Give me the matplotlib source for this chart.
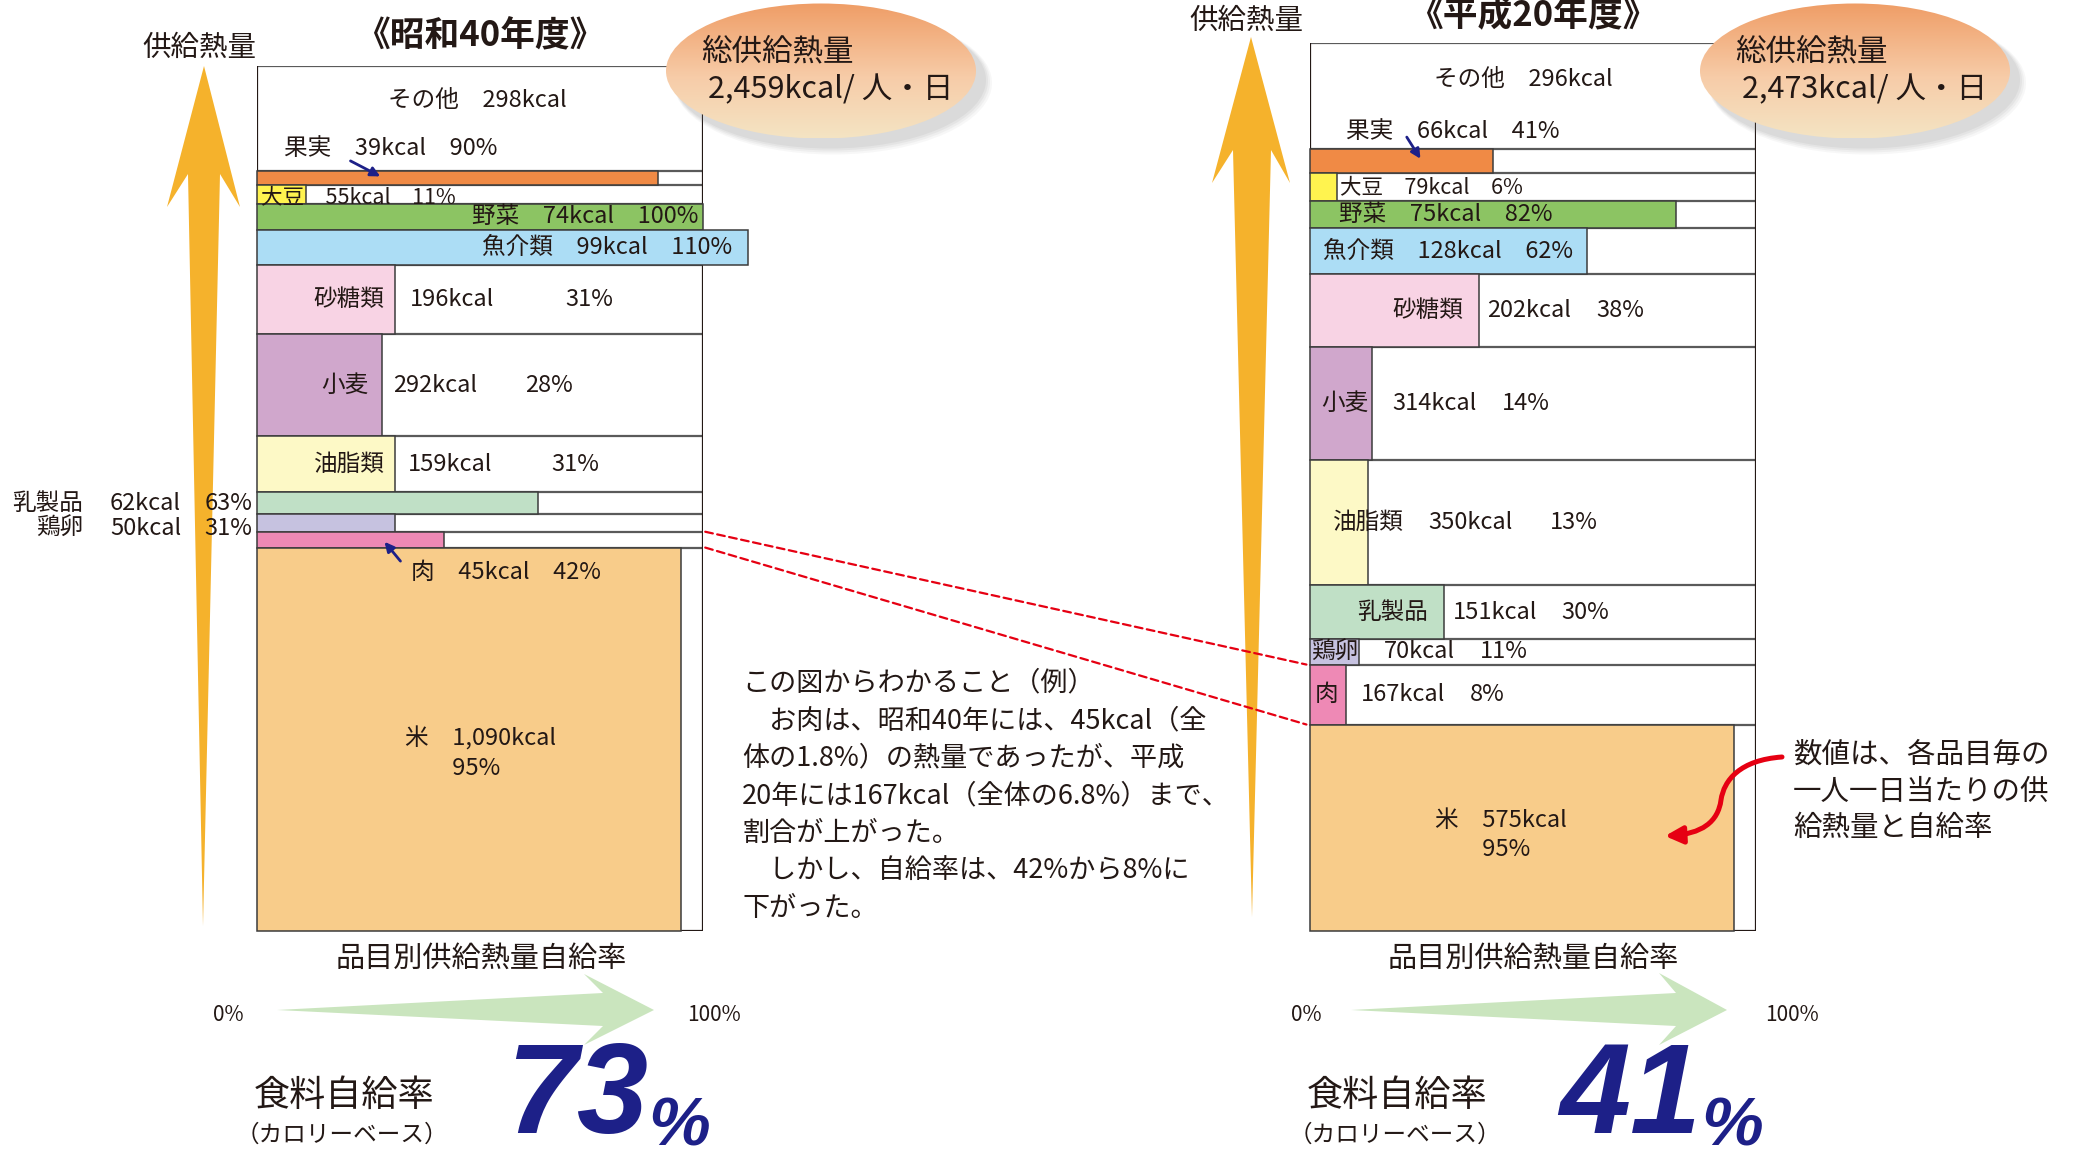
import numpy as np
import matplotlib
matplotlib.use("Agg")
import matplotlib.pyplot as plt
from matplotlib.patches import Ellipse, Polygon, FancyArrowPatch, ConnectionPatch
from matplotlib.path import Path

plt.rcParams['font.family'] = ['Noto Sans CJK JP', 'DejaVu Sans']

# ---- data (rows listed top to bottom) ----
items = ["その他", "果実", "大豆", "野菜", "魚介類", "砂糖類", "小麦", "油脂類",
         "乳製品", "鶏卵", "肉", "米"]
kcal_s40 = [298, 39, 55, 74, 99, 196, 292, 159, 62, 50, 45, 1090]
rate_s40 = [None, 90, 11, 100, 110, 31, 28, 31, 63, 31, 42, 95]
kcal_h20 = [296, 66, 79, 75, 128, 202, 314, 350, 151, 70, 167, 575]
rate_h20 = [None, 41, 6, 82, 62, 38, 14, 13, 30, 11, 8, 95]
total_kcal = [2459, 2473]
food_rate = [73, 41]
years = ["《昭和40年度》", "《平成20年度》"]

row_colors = ["white", "#F08A45", "#FFF34F", "#8CC463", "#ACDDF5", "#F8D3E4",
              "#D0A7CC", "#FDF9C6", "#C0E0C6", "#C6C2E0", "#EE89B5", "#F8CC8A"]

W, H = 2078, 1161
INK = "#231815"
NAVY = "#1D2088"

fig = plt.figure(figsize=(W / 100, H / 100), dpi=100)

# background layer (drawn below the panels)
bg = fig.add_axes([0, 0, 1, 1], zorder=-1)
bg.set_xlim(0, W)
bg.set_ylim(H, 0)
bg.axis("off")


def add_px_axes(x0, y0, x1, y1):
    return fig.add_axes([x0 / W, 1 - y1 / H, (x1 - x0) / W, (y1 - y0) / H])


def kc(v):
    return f"{v:,}kcal"


def label(ax, x, y, s, ha="left", dy=0, size=17):
    ax.annotate(s, (x, y), xytext=(0, dy), textcoords="offset points",
                ha=ha, va="center", fontsize=size, color=INK,
                annotation_clip=False, zorder=5)


def draw_panel(ax, kcal, rate, total):
    kcal = np.array(kcal)
    top = total - np.cumsum(kcal) + kcal
    bottom = top - kcal
    ax.set_xlim(0, 100)
    ax.set_ylim(0, total)
    ax.axis("off")
    for i in range(1, len(items)):
        ax.barh(bottom[i], rate[i], height=kcal[i], align="edge",
                color=row_colors[i], edgecolor="#3c3c3c", lw=1.1,
                clip_on=False, zorder=2)
    ax.hlines(top, 0, 100, colors="#5a5a5a", lw=1.6, zorder=1)
    ax.hlines(0, 0, 100, colors=INK, lw=1.6, zorder=1)
    ax.vlines([0, 100], 0, total, colors=INK, lw=1.6, zorder=1)
    return top, bottom


# ---- left panel: 昭和40年度 ----
axL = add_px_axes(257, 66, 703, 931)
topL, botL = draw_panel(axL, kcal_s40, rate_s40, total_kcal[0])
midL = (topL + botL) / 2
k, r = kcal_s40, rate_s40

label(axL, 49.3, topL[0], f"{items[0]}　{kc(k[0])}", ha="center", dy=-25)
label(axL, 6.0, topL[1], f"{items[1]}　{kc(k[1])}　{r[1]}%", dy=16)
axL.annotate("", (28.2, midL[1]), xytext=(-25, 13), textcoords="offset points",
             arrowprops=dict(arrowstyle="-|>", color=NAVY, lw=2, mutation_scale=14),
             zorder=6)
label(axL, 1.0, midL[2], f"{items[2]}　{kc(k[2])}　{r[2]}%", dy=-2, size=15.5)
label(axL, 98.9, midL[3], f"{items[3]}　{kc(k[3])}　{r[3]}%", ha="right")
label(axL, 106.5, midL[4], f"{items[4]}　{kc(k[4])}　{r[4]}%", ha="right")
cols_L = {5: (28.6, 34.2, 69.2), 6: (25.0, 30.5, 60.0), 7: (28.6, 33.9, 66.1),
          8: (-39.0, -33.0, -11.7), 9: (-39.0, -33.0, -11.7)}
dys_L = {8: 0, 9: -4}
for i, (xn, xk, xp) in cols_L.items():
    dy = dys_L.get(i, 0)
    label(axL, xn, midL[i], items[i], ha="right", dy=dy)
    label(axL, xk, midL[i], kc(k[i]), dy=dy)
    label(axL, xp, midL[i], f"{r[i]}%", dy=dy)
label(axL, 34.5, botL[10], f"{items[10]}　{kc(k[10])}　{r[10]}%", dy=-18)
axL.annotate("", (28.2, midL[10]), xytext=(14, -17), textcoords="offset points",
             arrowprops=dict(arrowstyle="-|>", color=NAVY, lw=2, mutation_scale=14),
             zorder=6)
axL.annotate(f"{items[11]}　{kc(k[11])}\n　　{r[11]}%", (33.2, midL[11]),
             xytext=(0, -10), textcoords="offset points", ha="left", va="center",
             fontsize=17, color=INK, linespacing=1.35, zorder=5)

# ---- right panel: 平成20年度 ----
axR = add_px_axes(1310, 43, 1756, 931)
topR, botR = draw_panel(axR, kcal_h20, rate_h20, total_kcal[1])
midR = (topR + botR) / 2
k, r = kcal_h20, rate_h20

label(axR, 47.8, topR[0], f"{items[0]}　{kc(k[0])}", ha="center", dy=-26)
label(axR, 8.1, topR[1], f"{items[1]}　{kc(k[1])}　{r[1]}%", dy=13)
axR.annotate("", (25.1, midR[1]), xytext=(-12, 19), textcoords="offset points",
             arrowprops=dict(arrowstyle="-|>", color=NAVY, lw=2, mutation_scale=14),
             zorder=6)
label(axR, 6.8, midR[2], f"{items[2]}　{kc(k[2])}　{r[2]}%", size=15.5)
label(axR, 6.5, midR[3], f"{items[3]}　{kc(k[3])}　{r[3]}%")
label(axR, 2.9, midR[4], f"{items[4]}　{kc(k[4])}　{r[4]}%")
cols_R = {5: (34.4, "right", 39.8, 64.3), 6: (7.8, "center", 18.5, 43.0),
          7: (5.2, "left", 26.5, 53.7), 8: (10.5, "left", 32.0, 56.3),
          9: (0.2, "left", 16.5, 38.0), 10: (1.0, "left", 11.4, 35.8)}
for i, (xn, ha, xk, xp) in cols_R.items():
    label(axR, xn, midR[i], items[i], ha=ha)
    label(axR, xk, midR[i], kc(k[i]))
    label(axR, xp, midR[i], f"{r[i]}%")
axR.annotate(f"{items[11]}　{kc(k[11])}\n　　{r[11]}%", (28.0, midR[11]),
             xytext=(0, -5), textcoords="offset points", ha="left", va="center",
             fontsize=17, color=INK, linespacing=1.35, zorder=5)

# ---- overlay for decorations above the panels ----
ov = fig.add_axes([0, 0, 1, 1], zorder=10)
ov.set_xlim(0, W)
ov.set_ylim(H, 0)
ov.axis("off")

# red dashed lines linking the meat rows
for yl, yr in [(topL[10], topR[10]), (botL[10], botR[10])]:
    cp = ConnectionPatch(xyA=(100.5, yl), coordsA=axL.transData,
                         xyB=(-0.8, yr), coordsB=axR.transData,
                         color="#E60012", lw=1.6, linestyle=(0, (3.5, 2)), zorder=12)
    fig.add_artist(cp)

# orange vertical arrows (供給熱量) - behind the labels
orange = "#F5B22C"
bg.add_patch(Polygon([(204, 66), (240, 207), (220, 174), (203, 926),
                      (188, 174), (167, 207)], closed=True, fc=orange, ec="none"))
bg.add_patch(Polygon([(1251, 37), (1290, 183), (1271, 150), (1252, 917),
                      (1233, 150), (1212, 183)], closed=True, fc=orange, ec="none"))
ov.text(199, 48, "供給熱量", ha="center", va="center", fontsize=20.5, color=INK)
ov.text(1246, 21, "供給熱量", ha="center", va="center", fontsize=20.5, color=INK)

# titles
ov.text(480, 36, years[0], ha="center", va="center", fontsize=25,
        fontweight="bold", color=INK)
ov.text(1533, 16, years[1], ha="center", va="center", fontsize=25,
        fontweight="bold", color=INK)

# gradient ellipses with total supply
grad_top = np.array([0.937, 0.616, 0.400])
grad_mid = np.array([0.969, 0.800, 0.660])
grad_bot = np.array([0.957, 0.894, 0.765])
t = np.linspace(0, 1, 256)[:, None]
grad = np.where(t < 0.55, grad_top + (grad_mid - grad_top) * (t / 0.55),
                grad_mid + (grad_bot - grad_mid) * ((t - 0.55) / 0.45))
grad = grad[:, None, :]
for cx, total in [(821, total_kcal[0]), (1855, total_kcal[1])]:
    cy, ew, eh = 71, 310, 135
    for j, a in enumerate([0.05, 0.06, 0.07, 0.08]):
        sh = Ellipse((cx + 12 - j, cy + 12 - j), ew + 8 - 2 * j, eh + 8 - 2 * j,
                     fc="#6b6b6b", ec="none", alpha=a)
        ov.add_patch(sh)
    ell = Ellipse((cx, cy), ew, eh, fc="none", ec="none")
    ov.add_patch(ell)
    im = ov.imshow(grad, extent=(cx - ew / 2, cx + ew / 2, cy + eh / 2, cy - eh / 2),
                   origin="upper", aspect="auto", zorder=2)
    im.set_clip_path(ell)
    ov.text(cx - 120, 52, "総供給熱量", ha="left", va="center", fontsize=22,
            color=INK, zorder=3)
    ov.text(cx - 113, 90, f"{total:,}kcal/ 人・日", ha="left", va="center",
            fontsize=22, color=INK, zorder=3)
ov.set_xlim(0, W)
ov.set_ylim(H, 0)

# bottom captions and green arrows
green = "#CAE5BE"
bg.add_patch(Polygon([(277, 1010), (603, 993), (584, 974), (654, 1010),
                      (584, 1045), (603, 1026)], closed=True, fc=green, ec="none"))
bg.add_patch(Polygon([(1351, 1010), (1676, 993), (1659, 973), (1727, 1010),
                      (1659, 1045), (1676, 1026)], closed=True, fc=green, ec="none"))
for cx, x0, x100, fx, rate in [(481, 228, 714, 344, food_rate[0]),
                               (1533, 1306, 1792, 1397, food_rate[1])]:
    ov.text(cx, 959, "品目別供給熱量自給率", ha="center", va="center",
            fontsize=21, color=INK)
    ov.text(x0, 1015, "0%", ha="center", va="center", fontsize=15, color=INK)
    ov.text(x100, 1015, "100%", ha="center", va="center", fontsize=15, color=INK)
    ov.text(fx, 1096, "食料自給率", ha="center", va="center", fontsize=26, color=INK)
    ov.text(fx - 2, 1135, "（カロリーベース）", ha="center", va="center",
            fontsize=17, color=INK)
    num_x = fx + 162
    ov.text(num_x, H - 1, f"{rate}", ha="left", va="bottom", fontsize=92,
            family="Liberation Sans", fontweight="bold", fontstyle="italic",
            color=NAVY)
    ov.text(num_x + 142, H - 1, "%", ha="left", va="bottom", fontsize=50,
            family="Liberation Sans", fontweight="bold", fontstyle="italic",
            color=NAVY)

# middle explanatory note
note = ["この図からわかること（例）",
        "　お肉は、昭和40年には、45kcal（全",
        "体の1.8%）の熱量であったが、平成",
        "20年には167kcal（全体の6.8%）まで、",
        "割合が上がった。",
        "　しかし、自給率は、42%から8%に",
        "下がった。"]
for n, line in enumerate(note):
    ov.text(742, 683 + 37.6 * n, line, ha="left", va="center", fontsize=19.5,
            color=INK)

# right side note with red curved arrow
side = ["数値は、各品目毎の", "一人一日当たりの供", "給熱量と自給率"]
for n, line in enumerate(side):
    ov.text(1793, 755 + 36.7 * n, line, ha="left", va="center", fontsize=20.5,
            color=INK)
curve = Path([(1782, 757), (1740, 760), (1724, 780), (1721, 800),
              (1718, 822), (1702, 834), (1665, 836)],
             [Path.MOVETO, Path.CURVE4, Path.CURVE4, Path.CURVE4,
              Path.CURVE4, Path.CURVE4, Path.CURVE4])
ov.add_patch(FancyArrowPatch(path=curve, arrowstyle="-|>", mutation_scale=26,
                             color="#E60012", lw=3.6, zorder=6))

fig.savefig("out.png", dpi=100)
